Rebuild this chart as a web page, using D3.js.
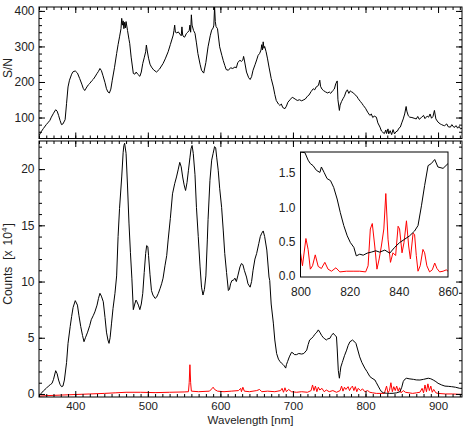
<!DOCTYPE html>
<html>
<head>
<meta charset="utf-8">
<script src="https://cdn.jsdelivr.net/npm/d3@7"></script>
<style>
body{margin:0;background:#fff}
svg{display:block}
text{font-family:"Liberation Sans",Arial,sans-serif;fill:#222}
</style>
</head>
<body>
<div id="viz"></div>
<script>
// ---- data ----
var snWave = [350,353,356,360,363,365,367,370,373,375,377,379,381,383,386,388,390,392,395,397,400,403,406,409,411,413,416,418,420,423,425,427,430,432,434,436,438,441,443,445,447,449,451,454,457,459,461,463,464,465,466,467,468,469,470,472,474,475,477,480,482,484,486,489,491,493,495,497,498,499,501,503,505,508,512,516,521,524,528,531,535,536,537,538,540,542,544,546,547,548,550,551,553,555,557,558,559,560,561,563,565,567,569,572,574,577,580,583,586,588,590,591,592,593,594,596,599,602,604,606,608,611,614,617,620,622,624,627,629,631,632,633,636,639,641,643,645,648,650,652,654,656,657,658,659,660,661,663,665,667,670,673,675,677,680,682,684,686,689,691,693,696,699,700,703,706,709,712,714,717,720,722,725,728,730,732,735,737,738,740,742,745,748,750,752,755,757,759,761,762,764,765,767,769,771,773,775,777,779,781,783,785,788,790,793,795,797,800,803,806,808,810,812,815,817,820,822,824,826,828,829,831,832,834,836,838,840,842,844,846,848,850,852,854,856,857,859,861,864,867,870,872,874,877,880,882,885,887,889,891,893,895,897,900,903,905,907,909,912,914,917,919,922,925,927,929,931,933];
var snVal = [49,60,69,80,87,92,101,112,122,118,106,92,80,82,94,140,186,205,222,229,231,225,210,194,182,176,186,192,196,204,208,214,224,230,238,232,219,198,181,172,169,180,205,240,280,305,327,350,379,360,372,350,368,352,370,345,320,309,270,224,222,228,222,216,228,252,268,285,304,290,267,250,242,234,228,236,252,265,285,305,332,345,360,340,338,341,335,330,355,332,326,327,336,340,345,360,340,389,360,345,337,310,280,250,233,225,255,299,330,346,352,360,412,370,356,350,299,275,260,247,235,233,240,238,242,240,255,261,258,262,272,262,228,212,207,215,233,250,262,275,280,290,305,290,313,295,300,285,265,242,210,186,165,148,138,134,138,128,125,132,143,150,157,156,152,148,150,147,149,152,160,163,173,181,178,186,190,205,188,180,176,172,169,172,168,176,180,195,203,150,120,135,145,153,160,172,178,168,175,172,170,165,160,153,145,140,134,126,115,106,110,100,104,101,85,73,62,58,55,65,55,68,54,63,52,66,54,60,62,70,73,85,96,110,131,118,105,101,100,98,96,103,95,100,106,97,104,101,110,98,103,120,96,87,82,80,78,77,82,74,73,80,72,77,70,75,68,70];

var countWave = [350,353,356,360,363,366,368,370,373,375,377,379,381,383,385,388,390,393,395,397,400,403,405,407.5,410,412,414,417,420,422,425,427,430,432,434,436,438.6,441,443,445,446.5,448,450,452,454.7,457,459,461,464,466,467,468,470,472,474,476,478,480,482,483.7,485,487,489,491,493,495,497,498.4,500,501,503,505,507,510,512,514.5,517,519,521,523.6,526,528,531,534,537,539.5,542,544,546,548,550,552,554,556,558,559.5,561,562.6,565,567,569.5,572,574,576,578,580,582,583,585.6,588,590,592,593.5,595,597,599,601.7,604,606,608.5,611,612.5,614,616,617.7,620,622,624,627,629,631,633,636,638,641,643,645,647.6,650,653,655,657,659,661,664,667,668,670,673,675,677.5,680,682,684,686.7,688,690,691,692.7,695,698,700,702,705,708,712,715,719,721,723,725,728,730,731.7,733,735,737,739.6,742,744,746,748,751,753,755.6,758,760,761,762.5,764,765,766,768,769,771,774,776,778.6,780,782,784,786.8,789,792,795,799,802,806,809,813,815,817.5,820,822,825,829,833,838,843,847.5,850,852,854,856.7,860,866,870,875,880,886.5,890,893.4,897,900,905,909.5,914,918.7,924,930,934];
var countVal = [-0.2,0.05,0.27,0.5,0.7,0.85,0.95,1.3,2.07,1.8,1.24,0.85,0.65,0.7,1.24,2.8,4.5,6.0,6.9,7.7,8.3,7.9,7.0,6.0,5.2,4.65,5.0,5.5,6.1,6.6,7.0,7.3,7.9,8.5,8.95,8.7,8.2,6.8,5.5,4.8,4.5,5.0,6.3,7.6,8.95,10.5,14.0,16.5,19.3,21.5,22.1,22.3,21.4,18.5,15.2,12.6,10.3,7.5,8.0,8.35,8.2,7.9,7.5,8.0,8.95,10.8,12.5,13.2,13.1,12.3,10.6,9.2,8.8,8.5,8.6,8.95,9.4,9.8,10.3,11.4,12.3,13.7,15.6,17.8,18.7,19.3,20.0,20.6,20.2,19.3,18.6,18.1,18.8,19.9,21.0,21.8,22.1,21.4,19.5,16.6,14.0,11.3,9.5,8.8,9.3,10.5,13.7,15.5,19.0,20.8,21.4,22.0,21.9,21.0,19.9,18.3,16.6,14.5,12.5,10.8,9.2,9.3,9.8,10.1,10.1,10.3,10.0,10.5,11.3,11.6,11.5,11.0,10.4,9.8,9.5,10.0,11.0,12.0,12.5,13.4,14.0,14.3,14.5,14.0,12.8,10.4,10.1,8.0,6.3,4.8,3.6,3.1,2.9,2.75,2.6,2.5,2.3,2.6,2.9,3.3,3.7,3.65,3.5,3.5,3.6,3.55,3.6,3.9,4.4,4.8,4.9,5.1,5.3,5.4,5.5,5.7,5.5,5.2,5.0,4.9,4.8,4.9,4.95,5.2,5.4,5.2,5.1,4.0,2.1,1.4,1.9,2.4,2.8,3.0,3.4,3.9,4.3,4.65,4.7,4.8,4.7,4.5,4.0,3.3,2.8,2.3,2.0,1.55,1.4,1.24,1.0,0.7,0.4,0.2,0.1,0.06,0.05,0.06,0.1,0.2,0.6,1.1,1.3,1.4,1.35,1.3,1.25,1.24,1.3,1.4,1.35,1.24,1.1,0.95,0.8,0.7,0.68,0.65,0.6,0.5,0.5];

var skyWave = [350,360,380,400,420,440,455,470,490,510,530,550,556,557,558,559,560,570,585,588,590,592,596,605,615,625,628,629,631,633,640,650,654,657,665,675,683,685,687,689,691,694,698,705,712,720,725,727,729,731,733,735,737,740,743,746,750,755,760,765,767,769,771,773,776,778,780,782,784,786,788,790,793,796,799,803,806,810,815,820,826,829,831,833,835,837,839,841,843,845,847,849,852,855,860,865,870,875,878,880,882,884,886,888,890,892,894,897,900,910,920,934];
var skyVal = [-0.2,-0.15,-0.1,-0.05,0.0,0.05,0.1,0.15,0.15,0.12,0.15,0.18,0.2,1.0,2.6,1.0,0.25,0.2,0.25,0.45,0.6,0.4,0.25,0.2,0.25,0.3,0.5,0.2,0.6,0.25,0.2,0.3,0.4,0.2,0.25,0.2,0.3,0.5,0.15,0.55,0.2,0.4,0.2,0.15,0.2,0.15,0.3,0.8,0.3,0.7,0.2,0.6,0.35,0.5,0.2,0.35,0.2,0.3,0.15,0.3,0.7,0.25,0.6,0.4,0.65,0.3,0.55,0.7,0.3,0.65,0.2,0.5,0.3,0.45,0.2,0.3,0.15,0.1,0.05,0.05,0.05,0.7,0.1,0.3,1.0,0.2,0.65,0.3,0.7,0.25,0.55,0.1,0.3,0.15,0.1,0.05,0.1,0.15,0.5,0.1,0.8,0.2,0.9,0.3,0.7,0.15,0.4,0.1,0.05,0.0,0.0,-0.05];

var insetWave = [800,801.8,803.1,804,805.1,806.5,807.9,808.5,809.6,810.8,812.2,813.5,814.9,816.2,817.6,819,820.3,821.7,822.7,824.1,825.5,827.1,828.8,830.6,832.2,834.3,836.3,838.3,840.3,842.4,844.4,846.4,847.8,849.2,850.5,851.9,853.2,854.6,855.9,858,860];
var insetCount = [1.81,1.80,1.69,1.64,1.61,1.54,1.51,1.59,1.51,1.42,1.39,1.29,1.12,0.92,0.73,0.58,0.48,0.41,0.285,0.31,0.295,0.325,0.34,0.36,0.34,0.37,0.325,0.41,0.48,0.53,0.58,0.65,0.73,1.02,1.32,1.61,1.64,1.70,1.59,1.57,1.64];
var insetSkyWave = [800,800.8,802.2,803.1,804,804.9,806,807.2,808.5,809.9,811.2,812.6,814.4,816,818.7,821.4,824.1,826.5,827.5,828.4,829.2,830.2,831.1,832,832.9,833.9,834.7,835.6,836.6,837.6,838.7,839.7,840.3,841.3,842.1,843.1,844,844.7,845.8,846.4,847.1,847.8,848.7,849.8,850.5,851.4,852.5,853.6,854.6,855.5,856.6,858,859.3,860];
var insetSky = [0.33,0.14,0.54,0.38,0.09,0.14,0.3,0.13,0.10,0.19,0.09,0.06,0.11,0.05,0.06,0.06,0.06,0.05,0.14,0.68,0.76,0.43,0.09,0.24,0.43,0.68,1.2,0.53,0.19,0.33,0.29,0.72,0.68,0.33,0.48,0.8,0.43,0.24,0.62,0.6,0.29,0.06,0.14,0.38,0.33,0.14,0.05,0.08,0.18,0.10,0.05,0.06,0.08,0.06];

var waveTicks = [400,500,600,700,800,900];
var snTicks = [100,200,300,400];
var countTicks = [0,5,10,15,20];
var insetWaveTicks = [800,820,840,860];
var insetCountTicks = [0,0.5,1,1.5];

// ---- layout ----
var width = 468, height = 426;
var L = 39, R = 462;
var topT = 7, topB = 138.5, botT = 141, botB = 397;
var inL = 300.5, inR = 448, inT = 152, inB = 277;
var fs = 12;

var svg = d3.select("#viz").append("svg").attr("width", width).attr("height", height);

var x = d3.scaleLinear().domain([350, 933]).range([L, R]);
var ySN = d3.scaleLinear().domain([41, 411]).range([topB, topT]);
var yC = d3.scaleLinear().domain([-0.27, 22.5]).range([botB, botT]);
var xi = d3.scaleLinear().domain([800, 860]).range([inL, inR]);
var yi = d3.scaleLinear().domain([-0.025, 1.81]).range([inB, inT]);

function clip(id, x0, y0, x1, y1){
	svg.append("clipPath").attr("id", id).append("rect")
		.attr("x", x0).attr("y", y0).attr("width", x1 - x0).attr("height", y1 - y0);
	return "url(#" + id + ")";
}

function drawLine(g, xs, ys, xv, yv, color, cp){
	var pts = d3.zip(xv, yv);
	g.append("path")
		.datum(pts)
		.attr("d", d3.line().x(function(d){ return xs(d[0]); }).y(function(d){ return ys(d[1]); }))
		.attr("fill", "none")
		.attr("stroke", color)
		.attr("stroke-width", 1)
		.attr("stroke-linejoin", "round")
		.attr("clip-path", cp);
}

// one side of ticks, inward, optionally labelled
function side(axisFn, scale, values, size, pos, labelFmt, pad, size2){
	var a = axisFn(scale).tickValues(values).tickSize(-size).tickSizeOuter(0).tickPadding(pad || 0)
		.tickFormat(labelFmt || "");
	var g = svg.append("g").attr("transform", pos).call(a);
	g.select(".domain").remove();
	g.selectAll("line").attr("stroke", "#000").attr("stroke-width", 1);
	g.selectAll("text").attr("font-family", null).style("font-size", (size2 || fs) + "px").attr("fill", "#222");
	g.attr("font-family", null).attr("font-size", null);
	return g;
}

var minorWave = d3.range(350, 934, 10);
var minorSN = d3.range(60, 411, 20);
var minorCount = d3.range(0, 23, 1);

// ---- top panel: S/N ----
var gTop = svg.append("g");
drawLine(gTop, x, ySN, snWave, snVal, "#000", clip("cTop", L, topT, R, topB));

[[topB, d3.axisBottom], [topT, d3.axisTop]].forEach(function(s){
	side(s[1], x, minorWave, 3, "translate(0," + s[0] + ")");
	side(s[1], x, waveTicks, 6, "translate(0," + s[0] + ")");
});
side(d3.axisLeft, ySN, minorSN, 3, "translate(" + L + ",0)");
side(d3.axisLeft, ySN, snTicks, 6, "translate(" + L + ",0)", d3.format("d"), 4.5);
side(d3.axisRight, ySN, minorSN, 3, "translate(" + R + ",0)");
side(d3.axisRight, ySN, snTicks, 6, "translate(" + R + ",0)");
svg.append("rect").attr("x", L).attr("y", topT).attr("width", R - L).attr("height", topB - topT)
	.attr("fill", "none").attr("stroke", "#000").attr("stroke-width", 1);

// ---- bottom panel: counts ----
var gBot = svg.append("g");
var cBot = clip("cBot", L, botT, R, botB);
drawLine(gBot, x, yC, skyWave, skyVal, "#f00", cBot);
drawLine(gBot, x, yC, countWave, countVal, "#000", cBot);

[[botB, d3.axisBottom], [botT, d3.axisTop]].forEach(function(s){
	side(s[1], x, minorWave, 3, "translate(0," + s[0] + ")");
});
side(d3.axisBottom, x, waveTicks, 6, "translate(0," + botB + ")", d3.format("d"), 5, 11.5);
side(d3.axisTop, x, waveTicks, 6, "translate(0," + botT + ")");
side(d3.axisLeft, yC, minorCount, 3, "translate(" + L + ",0)");
side(d3.axisLeft, yC, countTicks, 6, "translate(" + L + ",0)", d3.format("d"), 4.5);
side(d3.axisRight, yC, minorCount, 3, "translate(" + R + ",0)");
side(d3.axisRight, yC, countTicks, 6, "translate(" + R + ",0)");
svg.append("rect").attr("x", L).attr("y", botT).attr("width", R - L).attr("height", botB - botT)
	.attr("fill", "none").attr("stroke", "#000").attr("stroke-width", 1);

// ---- inset ----
svg.append("rect").attr("x", inL).attr("y", inT).attr("width", inR - inL).attr("height", inB - inT)
	.attr("fill", "#fff");
var gIn = svg.append("g");
var cIn = clip("cIn", inL, inT, inR, inB);
drawLine(gIn, xi, yi, insetSkyWave, insetSky, "#f00", cIn);
drawLine(gIn, xi, yi, insetWave, insetCount, "#000", cIn);
side(d3.axisBottom, xi, insetWaveTicks, 0, "translate(0," + inB + ")", d3.format("d"), 10);
side(d3.axisLeft, yi, insetCountTicks, 0, "translate(" + inL + ",0)", d3.format(".1f"), 5);
svg.append("rect").attr("x", inL).attr("y", inT).attr("width", inR - inL).attr("height", inB - inT)
	.attr("fill", "none").attr("stroke", "#000").attr("stroke-width", 1);

// ---- axis titles ----
svg.append("text").attr("transform", "translate(12,68) rotate(-90)")
	.attr("text-anchor", "middle").style("font-size", fs + "px").text("S/N");

var ct = svg.append("text").attr("transform", "translate(12,264) rotate(-90)")
	.attr("text-anchor", "middle").style("font-size", fs + "px");
ct.append("tspan").text("Counts");
ct.append("tspan").attr("dx", 7).text("[x");
ct.append("tspan").attr("dx", 5).text("10");
ct.append("tspan").attr("dy", -5).style("font-size", "8px").text("4");
ct.append("tspan").attr("dy", 5).attr("dx", 1).text("]");

svg.append("text").attr("x", (L + R) / 2).attr("y", 424)
	.attr("text-anchor", "middle").style("font-size", "11.5px").text("Wavelength [nm]");
</script>
</body>
</html>
